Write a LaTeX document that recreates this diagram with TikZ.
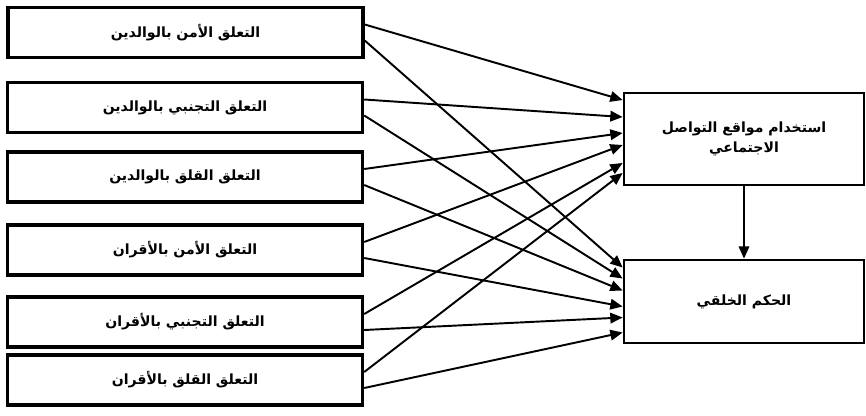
\documentclass[tikz,border=0pt]{standalone}
\usepackage{fontspec}
\newfontfamily\arabicfont[Script=Arabic]{DejaVu Sans}
\TeXXeTstate=1
\usetikzlibrary{arrows.meta,calc}

\begin{document}
\begin{tikzpicture}[x=0.02cm, y=-0.02cm,
    leftbox/.style={draw, line width=2pt, minimum width=7.1cm, minimum height=1.0cm,
        inner sep=0pt, font=\arabicfont\bfseries\footnotesize},
    rightbox/.style={draw, line width=1.6pt, minimum width=4.8cm, inner sep=0pt,
        align=center, font=\arabicfont\bfseries\footnotesize},
    link/.style={line width=1.1pt, -{Triangle[length=7pt,width=6pt]}}]
    \useasboundingbox (0,0) rectangle (866,416);

    %Left boxes
    \node[leftbox] (l1) at (185.5,32.5) {\beginR التعلق الأمن بالوالدين\endR};
    \node[leftbox] (l2) at (185,107.5) {\beginR التعلق التجنبي بالوالدين\endR};
    \node[leftbox] (l3) at (185,177) {\beginR التعلق القلق بالوالدين\endR};
    \node[leftbox] (l4) at (185,250) {\beginR التعلق الأمن بالأقران\endR};
    \node[leftbox] (l5) at (185,322) {\beginR التعلق التجنبي بالأقران\endR};
    \node[leftbox] (l6) at (185,380) {\beginR التعلق القلق بالأقران\endR};

    %Right boxes
    \node[rightbox, minimum height=1.84cm] (a) at (744,139)
        {\beginR استخدام مواقع التواصل\endR\\[2pt] \beginR الاجتماعي\endR};
    \node[rightbox, minimum height=1.66cm] (b) at (744,301.5) {\beginR الحكم الخلقي\endR};

    %Paths
    \foreach \i/\ta/\tb in {1/-39/-34, 2/-22/-23, 3/-6/-11, 4/6/5, 5/24/16, 6/34/31} {
        \draw[link] ($(l\i.east)+(0,-8)$) -- ($(a.west)+(0,\ta)$);
        \draw[link] ($(l\i.east)+(0,8)$) -- ($(b.west)+(0,\tb)$);
    }
    \draw[link] (a.south) -- (b.north);

\end{tikzpicture}
\end{document}
